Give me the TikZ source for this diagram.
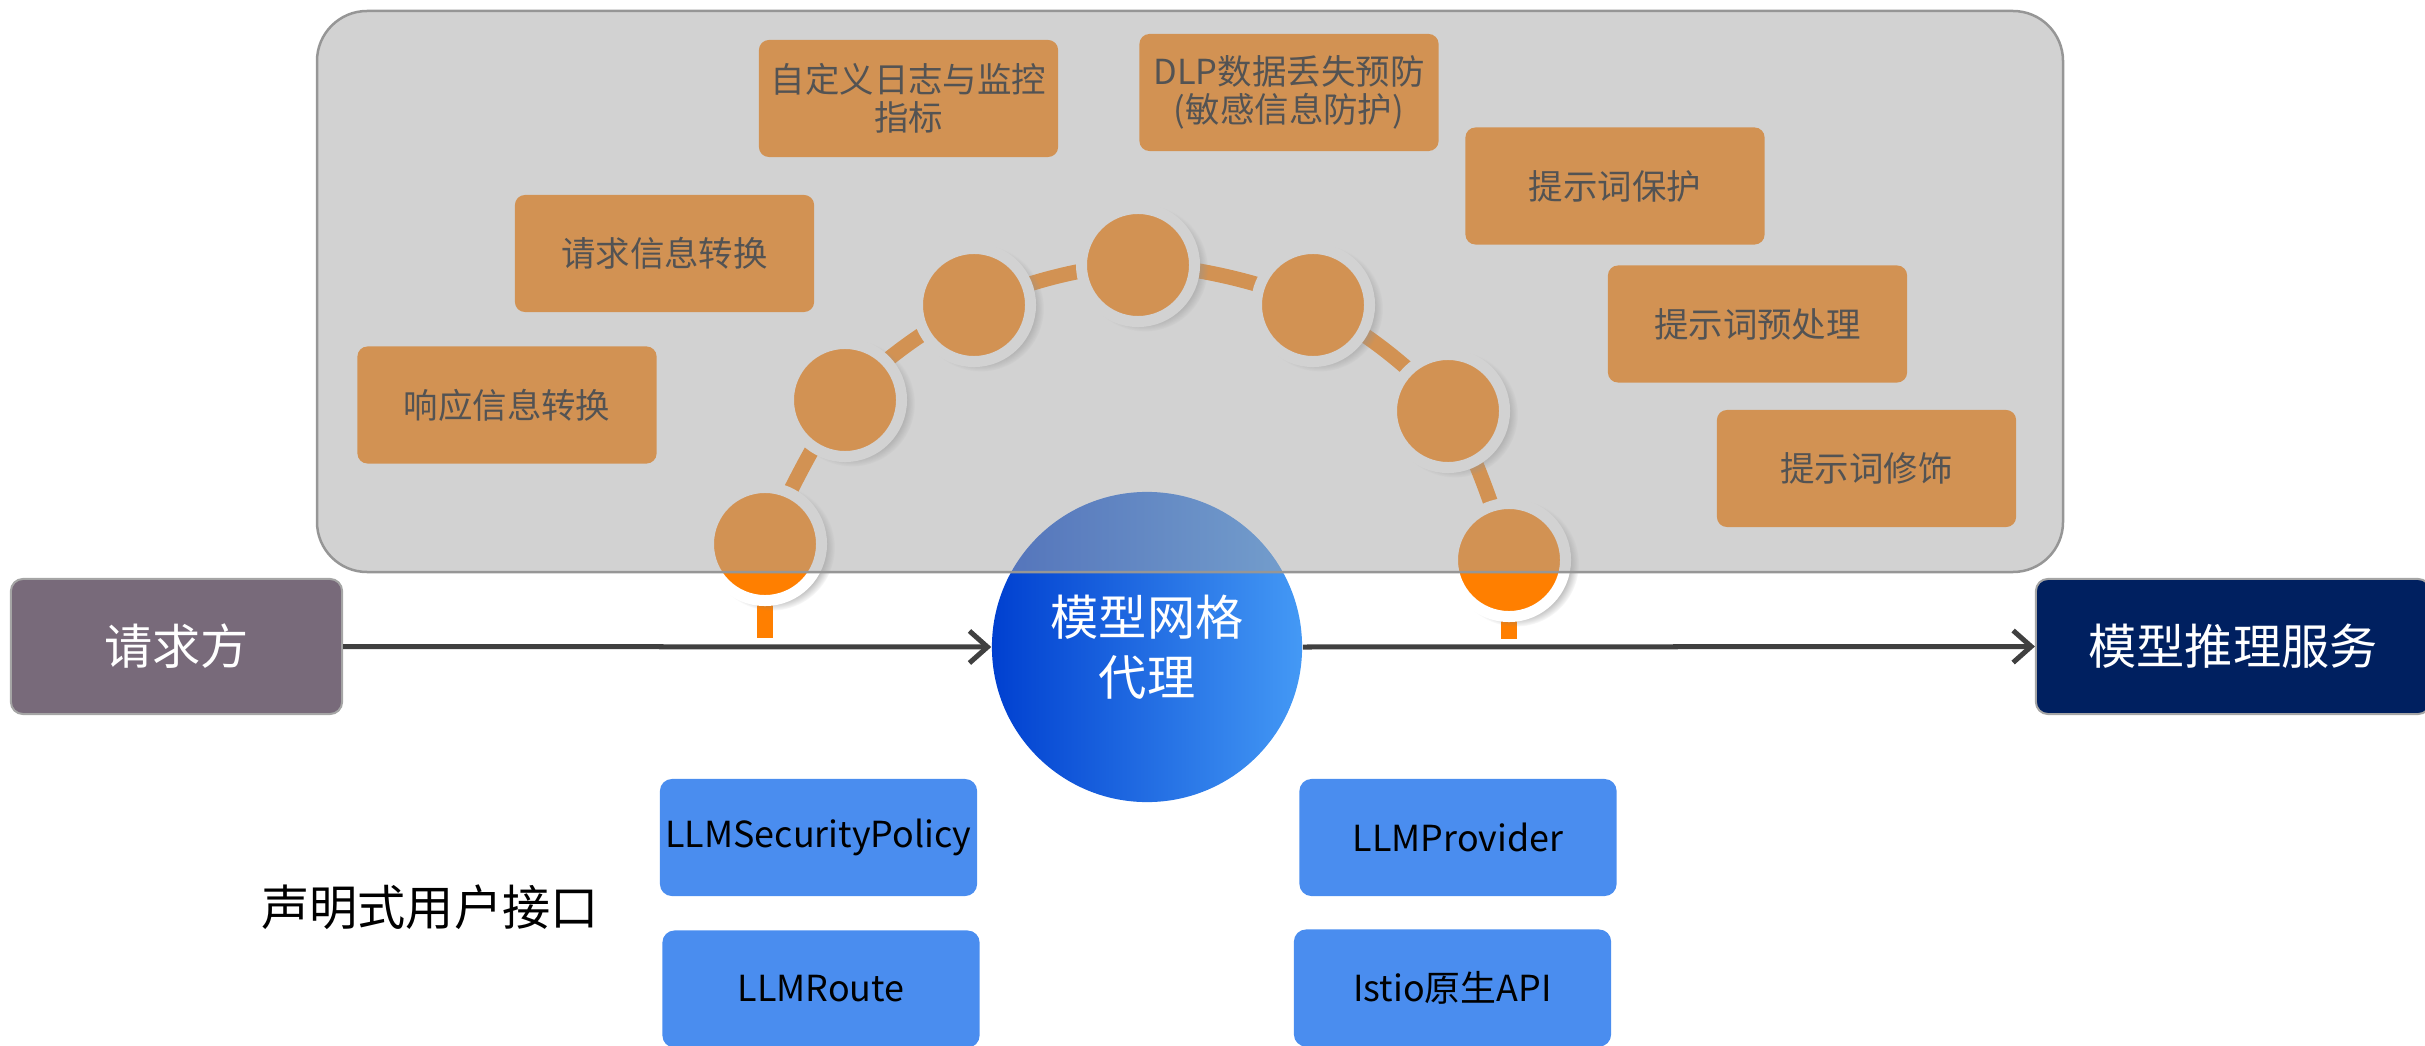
\documentclass[tikz,border=0pt]{standalone}
\usepackage{fontspec}
\setmainfont{Noto Sans CJK SC}
\usetikzlibrary{arrows.meta,shadows,backgrounds}

\begin{document}
\begin{tikzpicture}[x=0.01cm,y=-0.01cm,
  orangebox/.style={fill=hookorange, rounded corners=0.1cm, minimum width=2.99cm, minimum height=1.17cm, inner sep=0pt, align=center, font=\fontsize{9.8}{10.8}\selectfont},
  apibox/.style={fill=apiblue, rounded corners=0.12cm, minimum width=3.17cm, minimum height=1.17cm, inner sep=0pt, font=\fontsize{10.2}{12}\selectfont},
  endbox/.style={draw=edgegray, line width=0.02cm, rounded corners=0.12cm, minimum height=1.35cm, inner sep=0pt, text=white, font=\fontsize{13.7}{17}\selectfont},
  hook/.style={circle, fill=hookorange, draw=white, line width=0.11cm, minimum size=1.13cm, inner sep=0pt, circular drop shadow={shadow xshift=0.06cm, shadow yshift=-0.03cm, shadow scale=1.12, opacity=0.5}},
  flow/.style={draw=flowgray, line width=0.05cm, -{Straight Barb[length=0.18cm,width=0.32cm]}},
  link/.style={draw=hookorange, line width=0.15cm},
]
% Define colours
\definecolor{hookorange}{RGB}{255,127,0}
\definecolor{apiblue}{RGB}{74,141,239}
\definecolor{reqgray}{RGB}{120,106,122}
\definecolor{infernavy}{RGB}{0,32,96}
\definecolor{flowgray}{RGB}{64,64,64}
\definecolor{veilgray}{RGB}{166,166,166}
\definecolor{rimgray}{RGB}{150,150,150}
\definecolor{edgegray}{RGB}{165,165,165}
\definecolor{meshdark}{RGB}{0,64,208}
\definecolor{meshlight}{RGB}{68,153,245}

\useasboundingbox (0,0) rectangle (2425,1046);
\clip (0,0) rectangle (2425,1046);

% Proxy and the two ends
\node[circle, minimum size=3.1cm, inner sep=0pt, left color=meshdark, right color=meshlight, text=white, align=center, font=\fontsize{13.7}{17.1}\selectfont] (mesh) at (1147,647) {模型网格\\代理};
\node[endbox, fill=reqgray, minimum width=3.31cm] (req) at (176.5,646.5) {请求方};
\node[endbox, fill=infernavy, minimum width=3.94cm] (infer) at (2233,646.5) {模型推理服务};

% Request flow
\draw[flow] (req.east) -- (mesh.west);
\draw[flow] (mesh.east) -- (infer.west);

% Filter chain
\node[hook] (s1) at (765,544) {};
\node[hook] (s2) at (845,400) {};
\node[hook] (s3) at (974,305) {};
\node[hook] (s4) at (1138,265) {};
\node[hook] (s5) at (1313,305) {};
\node[hook] (s6) at (1448,411) {};
\node[hook] (s7) at (1509,560) {};
\coordinate (t1) at (765,638);
\coordinate (t7) at (1509,639);

\begin{pgfonlayer}{background}
\draw[link] plot[smooth, tension=0.55] coordinates {(s1.center) (s2.center) (s3.center) (s4.center) (s5.center) (s6.center) (s7.center)};
\draw[link, line width=0.16cm] (s1.center) -- (t1);
\draw[link, line width=0.16cm] (s7.center) -- (t7);
\end{pgfonlayer}

% Capabilities
\node[orangebox] (logs) at (908.5,98.5) {自定义日志与监控\\指标};
\node[orangebox] (dlp) at (1289,92.5) {DLP数据丢失预防\\(敏感信息防护)};
\node[orangebox] (reqconv) at (664.5,253.5) {请求信息转换};
\node[orangebox] (respconv) at (507,405) {响应信息转换};
\node[orangebox] (guard) at (1615,186) {提示词保护};
\node[orangebox] (prep) at (1757.5,324) {提示词预处理};
\node[orangebox] (decor) at (1866.5,468.5) {提示词修饰};

% Declarative API
\node[font=\fontsize{13.7}{17}\selectfont] (decl) at (430,907) {声明式用户接口};
\node[apibox] (secpol) at (818.5,837.5) {LLMSecurityPolicy};
\node[apibox] (route) at (821,989) {LLMRoute};
\node[apibox] (provider) at (1458,837.5) {LLMProvider};
\node[apibox] (istio) at (1452.5,988) {Istio原生API};

% Grey veil over the plugin area
\draw[draw=rimgray, line width=0.025cm, fill=veilgray, fill opacity=0.5, rounded corners=0.5cm] (317,11) rectangle (2063,572);
\end{tikzpicture}
\end{document}
